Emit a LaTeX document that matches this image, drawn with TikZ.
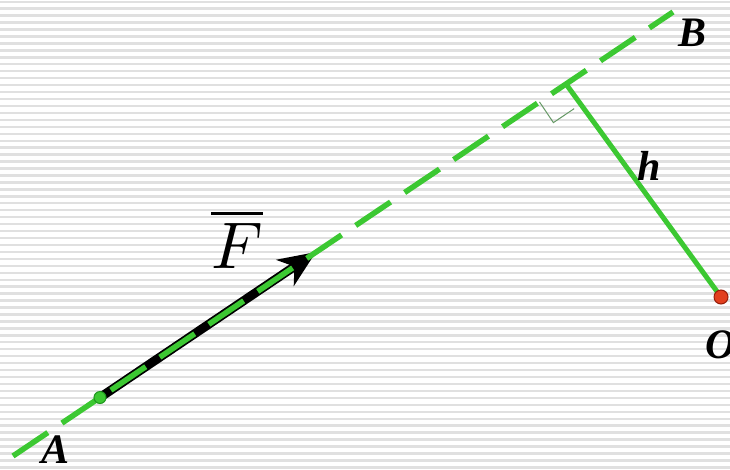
\documentclass[tikz,border=0pt]{standalone}
\usepackage{fontspec}
\newfontfamily\lblfont{Liberation Serif}
\usepackage{graphicx}
\usepackage{xcolor}
\usepackage{tikz}
\usetikzlibrary{arrows.meta,calc}

\definecolor{linegreen}{RGB}{60,200,50}
\definecolor{dotgreen}{RGB}{30,150,30}
\definecolor{dotred}{RGB}{226,64,30}
\definecolor{darkred}{RGB}{150,30,10}

\begin{document}
\begin{tikzpicture}[x=1pt, y=-1pt,
    stripe/.style={line width=2.4pt, color=black!12},
    actionline/.style={line width=5.5pt, color=linegreen, dash pattern=on 42pt off 17pt},
    force/.style={line width=9pt, -{Stealth[length=37pt, width=31pt, inset=11pt]}},
    perp/.style={line width=5pt, color=linegreen},
    rightmark/.style={line width=1pt, color=gray!80!green},
    dot/.style={circle, draw, line width=1pt, minimum size=12pt, inner sep=0pt},
    lbl/.style={inner sep=0pt, font=\fontsize{42}{46}\selectfont\lblfont\bfseries\itshape}
]
\useasboundingbox (0,0) rectangle (730,469);

% Striped background
\fill[white] (0,0) rectangle (730,469);
\foreach \k in {0,...,67}
    \draw[stripe] (0,1.7+6.95*\k) -- (730,1.7+6.95*\k);

% Points
\coordinate (start) at (13,456);
\coordinate (end) at (673,12);
\coordinate (A) at (100,397.5);
\coordinate (tip) at (316,252);
\coordinate (foot) at (566,84);
\coordinate (O) at (721,297);

% Right angle mark
\coordinate (sq) at ($(foot)!7pt!(start)$);
\coordinate (m1) at ($(sq)!25pt!(start)$);
\coordinate (m2) at ($(sq)!25pt!90:(start)$);
\draw[rightmark] (m1) -- ($(m1)+(m2)-(sq)$) -- (m2);

% Force and line of action
\draw[force] (A) -- (tip);
\draw[actionline] (start) -- (end);
\draw[perp] (foot) -- (O);

% Dots
\node[dot, fill=linegreen, draw=dotgreen] (Adot) at (A) {};
\node[dot, fill=dotred, draw=darkred, minimum size=14pt] (Odot) at (O) {};

% Labels
\node[lbl] (Alab) at (56,450) {A};
\node[lbl] (Blab) at (692,33) {B};
\node[lbl] (hlab) at (649,166) {h};
\node[lbl] (Olab) at (721,345) {O};
\node[inner sep=0pt] (Flab) at (237,239) {\scalebox{6.6}{$\overline{F}$}};

\end{tikzpicture}
\end{document}
